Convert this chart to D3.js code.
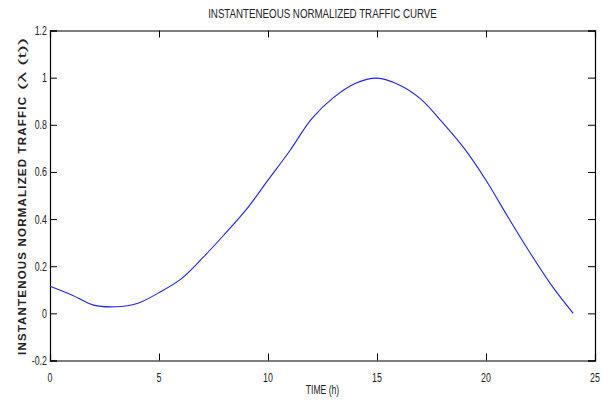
<!DOCTYPE html>
<html><head><meta charset="utf-8">
<script src="https://cdn.jsdelivr.net/npm/d3@7"></script>
<style>
html,body{margin:0;padding:0;background:#fff;}
text{font-family:"Liberation Sans",Arial,sans-serif;fill:#222;}
</style></head>
<body>
<svg id="c" width="607" height="405"></svg>
<script>
const hours = [0,1,2,3,4,5,6,7,8,9,10,11,12,13,14,15,16,17,18,19,20,21,22,23,24];
const traffic = [0.115,0.078,0.035,0.028,0.042,0.088,0.145,0.235,0.335,0.44,0.565,0.69,0.825,0.915,0.975,0.998,0.97,0.91,0.81,0.70,0.565,0.41,0.26,0.12,0.0];
const xTicks = [0,5,10,15,20,25];
const yTicks = [-0.2,0,0.2,0.4,0.6,0.8,1,1.2];
const title = "INSTANTENEOUS NORMALIZED TRAFFIC CURVE";
const xLabel = "TIME (h)";
const yLabelMain = "INSTANTENOUS NORMALIZED TRAFFIC";
const yLabelTail = "(λ (t))";

const svg = d3.select("#c");
const L=50, R=595, T=30.5, B=360.5;
const x = d3.scaleLinear().domain([0,25]).range([L,R]);
const y = d3.scaleLinear().domain([-0.2,1.2]).range([B,T]);
const tk = 7;
const SX = 0.68; // horizontal condensing of text

const fmt = d => (d===0?"0":String(d));

// axes: ticks only, labels drawn condensed
const gb = svg.append("g").attr("transform",`translate(0,${B})`)
  .call(d3.axisBottom(x).tickValues(xTicks).tickSize(-tk).tickFormat(""));
const gt = svg.append("g").attr("transform",`translate(0,${T})`)
  .call(d3.axisTop(x).tickValues(xTicks).tickSize(-tk).tickFormat(""));
const gl = svg.append("g").attr("transform",`translate(${L},0)`)
  .call(d3.axisLeft(y).tickValues(yTicks).tickSize(-tk).tickFormat(""));
const gr = svg.append("g").attr("transform",`translate(${R},0)`)
  .call(d3.axisRight(y).tickValues(yTicks).tickSize(-tk).tickFormat(""));
[gb,gt,gl,gr].forEach(g=>{
  g.select(".domain").attr("stroke","#000").attr("stroke-width",1.2);
  g.selectAll(".tick line").attr("stroke","#000").attr("stroke-width",1);
});

// tick labels (condensed)
svg.append("g").selectAll("text").data(xTicks).join("text")
  .attr("transform",d=>`translate(${x(d)},${B+21}) scale(${SX},1)`)
  .attr("text-anchor","middle").attr("font-size",13).text(fmt);
svg.append("g").selectAll("text").data(yTicks).join("text")
  .attr("transform",d=>`translate(${L-3},${y(d)+4.5}) scale(${SX},1)`)
  .attr("text-anchor","end").attr("font-size",13).text(fmt);

// line
svg.append("path")
  .datum(hours.map((h,i)=>[h,traffic[i]]))
  .attr("fill","none").attr("stroke","#2020ff").attr("stroke-width",1.1)
  .attr("d", d3.line().curve(d3.curveCatmullRom).x(d=>x(d[0])).y(d=>y(d[1])));

// title
svg.append("text").attr("transform",`translate(${(L+R)/2},18) scale(0.78,1)`)
  .attr("text-anchor","middle").attr("font-size",12.5).attr("fill","#333").text(title);
// x label
svg.append("text").attr("transform",`translate(${(L+R)/2},394) scale(0.66,1)`)
  .attr("text-anchor","middle").attr("font-size",13).text(xLabel);
// y label
svg.append("text").attr("transform",`translate(26,355) rotate(-90)`)
  .attr("text-anchor","start").attr("font-size",11.5).attr("font-weight","bold")
  .attr("textLength",258).attr("lengthAdjust","spacing").text(yLabelMain);
svg.append("text").attr("transform",`translate(26,90) rotate(-90)`)
  .attr("text-anchor","start").attr("font-size",11.5)
  .attr("textLength",52).attr("lengthAdjust","spacingAndGlyphs").text(yLabelTail);
</script>
</body></html>
